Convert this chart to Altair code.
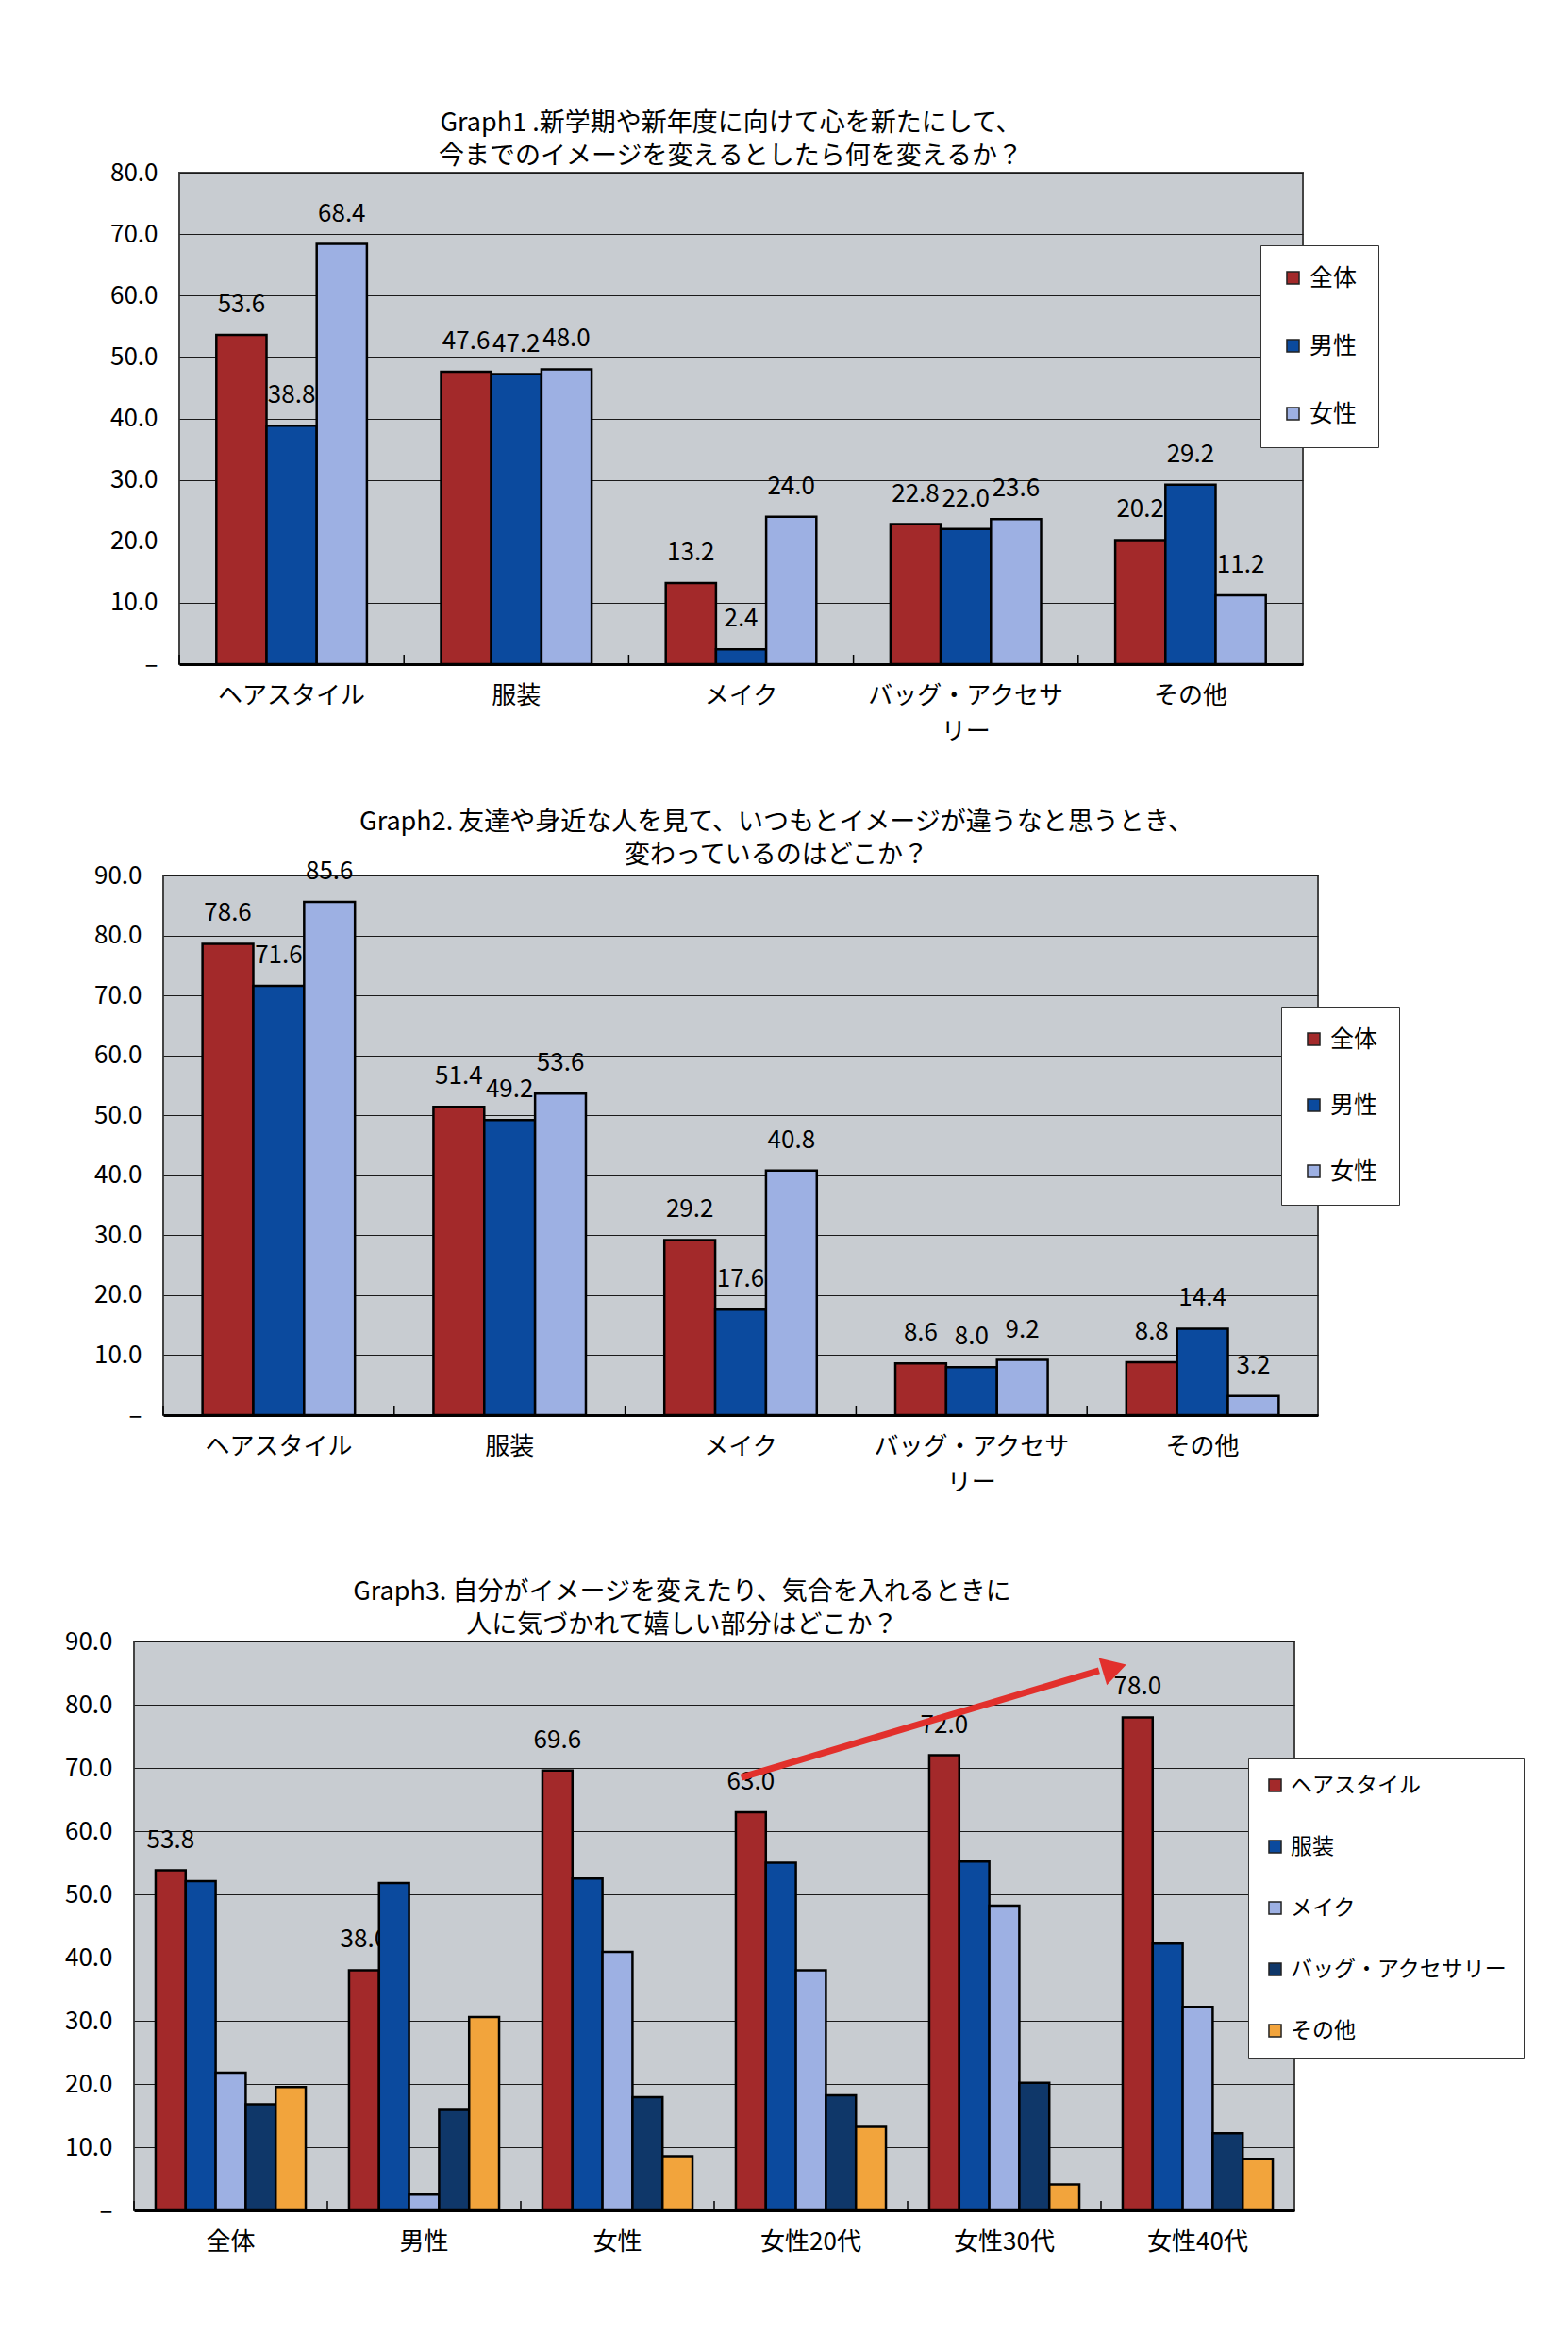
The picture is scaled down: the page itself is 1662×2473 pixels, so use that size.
import math
import altair as alt
import pandas as pd

FONT = "Noto Sans CJK JP"

# ---------------- data ----------------
g1_title = ["Graph1 .新学期や新年度に向けて心を新たにして、", "今までのイメージを変えるとしたら何を変えるか？"]
g1_cats = ["ヘアスタイル", "服装", "メイク", "バッグ・アクセサリー", "その他"]
g1_series = ["全体", "男性", "女性"]
g1_all = [53.6, 47.6, 13.2, 22.8, 20.2]
g1_male = [38.8, 47.2, 2.4, 22.0, 29.2]
g1_female = [68.4, 48.0, 24.0, 23.6, 11.2]

g2_title = ["Graph2. 友達や身近な人を見て、いつもとイメージが違うなと思うとき、", "変わっているのはどこか？"]
g2_cats = ["ヘアスタイル", "服装", "メイク", "バッグ・アクセサリー", "その他"]
g2_series = ["全体", "男性", "女性"]
g2_all = [78.6, 51.4, 29.2, 8.6, 8.8]
g2_male = [71.6, 49.2, 17.6, 8.0, 14.4]
g2_female = [85.6, 53.6, 40.8, 9.2, 3.2]

g3_title = ["Graph3.  自分がイメージを変えたり、気合を入れるときに", "人に気づかれて嬉しい部分はどこか？"]
g3_groups = ["全体", "男性", "女性", "女性20代", "女性30代", "女性40代"]
g3_series = ["ヘアスタイル", "服装", "メイク", "バッグ・アクセサリー", "その他"]
g3_hair = [53.8, 38.0, 69.6, 63.0, 72.0, 78.0]
g3_cloth = [52.1, 51.8, 52.5, 55.0, 55.2, 42.2]
g3_make = [21.8, 2.5, 40.9, 38.0, 48.2, 32.2]
g3_bag = [16.8, 15.9, 17.9, 18.2, 20.2, 12.2]
g3_other = [19.5, 30.6, 8.6, 13.2, 4.1, 8.1]

# trend arrow annotation (x in group units, y in %)
arrow_x = [3.14, 4.99]
arrow_y = [68.5, 85.4]
head_x = [5.07]
head_y = [85.8]

# ---------------- style ----------------
RED = "#a3292a"
BLUE = "#0b4a9e"
LIGHT = "#9db0e3"
NAVY = "#0f3769"
ORANGE = "#f2a43c"
BG = "#c8ccd1"
ARROW = "#e2302c"
AXIS_EXTENT = 74


def long_df(cats, series, cols):
    rows = []
    for s, vals in zip(series, cols):
        for c, v in zip(cats, vals):
            rows.append({"cat": c, "series": s, "value": v})
    return pd.DataFrame(rows)


def make_panel(df, cats, series, colors, ymax, width, height, pad_inner,
               legend, wrap_labels, label_series=None):
    label_expr = "datum.label"
    if wrap_labels:
        label_expr = ("datum.label == 'バッグ・アクセサリー' ? "
                      "['バッグ・アクセサ', 'リー'] : datum.label")
    x_axis = alt.Axis(title=None, labelAngle=0, labelFont=FONT, labelFontSize=26,
                      labelColor="black", labelPadding=20, labelLineHeight=38,
                      labelLimit=500, labelExpr=label_expr, ticks=False, domain=True,
                      domainColor="black", domainWidth=3)
    x_scale = alt.Scale(domain=cats, paddingInner=pad_inner, paddingOuter=pad_inner / 2)

    def xenc(**kw):
        return alt.X("cat:N", sort=cats, scale=x_scale, axis=x_axis, **kw)

    y = alt.Y("value:Q", scale=alt.Scale(domain=[0, ymax], nice=False),
              axis=alt.Axis(title=None, values=list(range(0, ymax + 1, 10)),
                            labelExpr="datum.value == 0 ? '–' : format(datum.value, '.1f')",
                            grid=True, gridColor="#1a1a1a", gridWidth=1.2,
                            domain=False, ticks=False, labelPadding=23,
                            labelFont=FONT, labelFontSize=26, labelColor="black",
                            minExtent=AXIS_EXTENT, maxExtent=AXIS_EXTENT))
    xo = alt.XOffset("series:N", sort=series, scale=alt.Scale(domain=series))

    base = alt.Chart(df)
    tdf = df if label_series is None else df[df["series"] == label_series]
    text = alt.Chart(tdf).mark_text(dy=-32, baseline="middle", fontSize=26,
                                    font=FONT, color="black").encode(
        x=xenc(), xOffset=xo, y=y, text=alt.Text("value:Q", format=".1f"))
    bars = base.mark_bar(stroke="black", strokeWidth=2.5).encode(
        x=xenc(), xOffset=xo, y=y,
        color=alt.Color("series:N", sort=series,
                        scale=alt.Scale(domain=series, range=colors), legend=legend))
    step = width / len(cats)
    ticks = alt.Chart(pd.DataFrame({"cat": cats})).mark_rule(
        color="black", strokeWidth=1.5, xOffset=-(pad_inner / 2) * step).encode(
        x=xenc(bandPosition=0), y=alt.value(height), y2=alt.value(height - 10))
    return alt.layer(text, bars, ticks), y


def legend_for(x, y, size, pad, row_pad):
    return alt.Legend(orient="none", legendX=x, legendY=y, title=None,
                      fillColor="white", strokeColor="#333", padding=pad,
                      rowPadding=row_pad, labelFont=FONT, labelFontSize=size,
                      labelColor="black", labelOffset=5, labelLimit=500,
                      symbolType="square", symbolSize=170, symbolStrokeColor="#222",
                      symbolStrokeWidth=1.5)


def title_for(lines, dx):
    return alt.TitleParams(text=lines, fontSize=27, font=FONT, fontWeight="normal",
                           color="black", anchor="middle", frame="group", dx=dx,
                           offset=-10, lineHeight=35)


def spacer(w):
    return alt.Chart(pd.DataFrame({"s": [0]})).mark_point(opacity=0, size=1).encode(
        x=alt.value(w / 2), y=alt.value(0.5)).properties(
        width=w, height=1,
        view=alt.ViewBackground(fill="transparent", stroke="transparent", strokeWidth=0))


# Graph1
df1 = long_df(g1_cats, g1_series, [g1_all, g1_male, g1_female])
p1, _ = make_panel(df1, g1_cats, g1_series, [RED, BLUE, LIGHT], 80, 1191, 521, 0.33,
                   legend_for(1146, 77, 25, 22, 46), True)
c1 = p1.properties(width=1191, height=521, title=title_for(g1_title, -11))

# Graph2
df2 = long_df(g2_cats, g2_series, [g2_all, g2_male, g2_female])
p2, _ = make_panel(df2, g2_cats, g2_series, [RED, BLUE, LIGHT], 90, 1224, 572, 0.34,
                   legend_for(1185, 139, 25, 22, 44), True)
c2 = p2.properties(width=1224, height=572, title=title_for(g2_title, 38))

# Graph3
df3 = long_df(g3_groups, g3_series, [g3_hair, g3_cloth, g3_make, g3_bag, g3_other])
p3, y3 = make_panel(df3, g3_groups, g3_series, [RED, BLUE, LIGHT, NAVY, ORANGE], 90,
                    1230, 603, 0.224, legend_for(1181, 124, 23, 17, 41), False,
                    label_series="ヘアスタイル")
ax_scale = alt.Scale(domain=[0, len(g3_groups)], nice=False, zero=False)
arrow_df = pd.DataFrame({"ax": arrow_x, "value": arrow_y})
head_df = pd.DataFrame({"ax": head_x, "value": head_y})
step_px = 1230 / len(g3_groups)
dxp = (arrow_x[1] - arrow_x[0]) * step_px
dyp = (arrow_y[1] - arrow_y[0]) * 603 / 90
head_angle = math.degrees(math.atan2(dxp, dyp))
arrow_line = alt.Chart(arrow_df).mark_line(color=ARROW, strokeWidth=7, strokeCap="butt").encode(
    x=alt.X("ax:Q", scale=ax_scale, axis=None), y=y3)
arrow_head = alt.Chart(head_df).mark_point(shape="triangle-up", filled=True, size=900,
                                           angle=head_angle, color=ARROW, opacity=1).encode(
    x=alt.X("ax:Q", scale=ax_scale, axis=None), y=y3)
c3 = alt.layer(p3, arrow_line, arrow_head).resolve_scale(x="independent").properties(
    width=1230, height=603, title=title_for(g3_title, -34))


def row(w, c):
    return alt.hconcat(spacer(w), c, spacing=0).resolve_scale(
        color="independent", xOffset="independent")


r1 = row(49, c1)
r2 = row(32, c2)
r3 = row(1, c3)

top = alt.vconcat(r1, r2, spacing=67).resolve_scale(
    color="independent", xOffset="independent")
chart = alt.vconcat(top, r3, spacing=88).resolve_scale(
    color="independent", xOffset="independent").properties(
    padding={"left": 58, "top": 108, "right": 10, "bottom": 10}
).configure_view(fill=BG, stroke="#444", strokeWidth=2)

chart.save("out.html", embed_options={"renderer": "svg", "actions": False})
